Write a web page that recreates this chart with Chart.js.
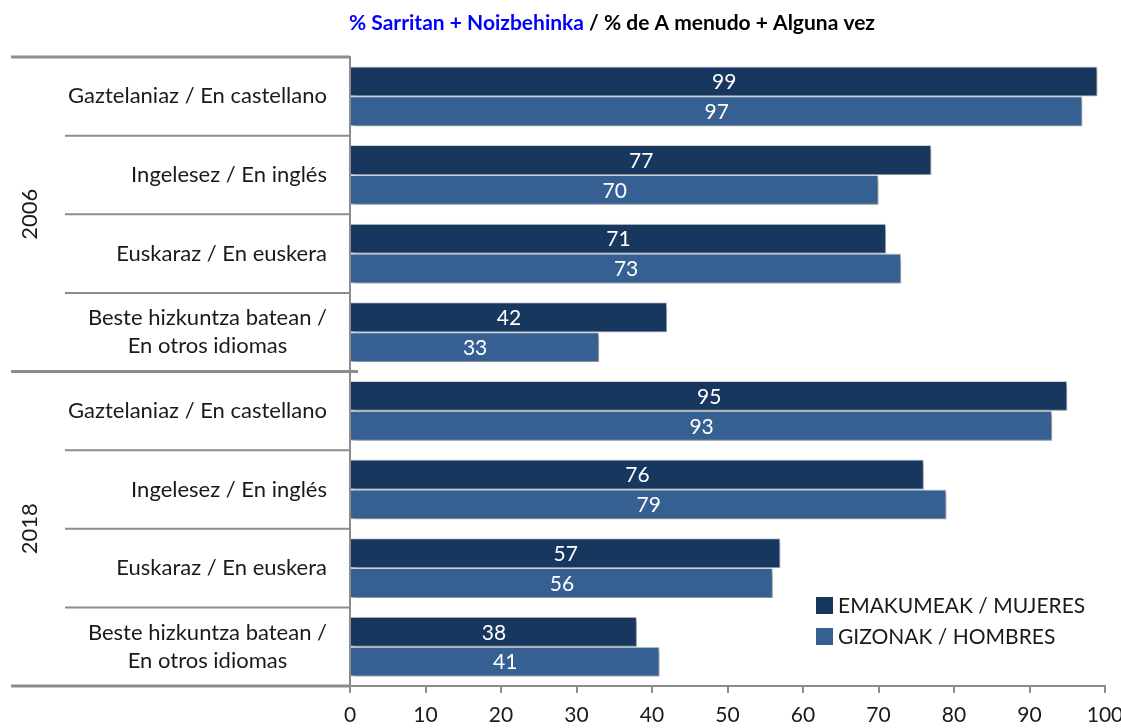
<!DOCTYPE html>
<html><head><meta charset="utf-8">
<script src="https://cdn.jsdelivr.net/npm/chart.js@4.4.0/dist/chart.umd.min.js"></script>
<style>html,body{margin:0;padding:0;background:#fff}</style>
</head><body>
<canvas id="c" width="1121" height="728"></canvas>
<script>
// ---- data ----
const titleBlue = '% Sarritan + Noizbehinka';
const titleBlack = ' / % de A menudo + Alguna vez';
const groups = ['2006', '2018'];
const categories = [
  ['Gaztelaniaz / En castellano'],
  ['Ingelesez / En inglés'],
  ['Euskaraz / En euskera'],
  ['Beste hizkuntza batean /', 'En otros idiomas'],
  ['Gaztelaniaz / En castellano'],
  ['Ingelesez / En inglés'],
  ['Euskaraz / En euskera'],
  ['Beste hizkuntza batean /', 'En otros idiomas']
];
const seriesNames = ['EMAKUMEAK / MUJERES', 'GIZONAK / HOMBRES'];
const women = [99, 77, 71, 42, 95, 76, 57, 38];
const men   = [97, 70, 73, 33, 93, 79, 56, 41];
const xMin = 0, xMax = 100, xStep = 10;

// ---- styles ----
const FONT = 'Lato, "Open Sans", sans-serif';
const darkBlue = '#17375E';
const midBlue = '#376092';
const gridGray = '#8c8c8c';

const overlay = {
  id: 'overlay',
  beforeDatasetsDraw(chart) {
    const ctx = chart.ctx;
    ctx.save();
    ctx.shadowColor = 'rgba(0,0,0,0.35)';
    ctx.shadowBlur = 4;
    ctx.shadowOffsetX = 2;
    ctx.shadowOffsetY = 3;
  },
  afterDatasetsDraw(chart) {
    const ctx = chart.ctx;
    ctx.restore();
    ctx.save();
    ctx.fillStyle = '#ffffff';
    ctx.font = '21px ' + FONT;
    ctx.textAlign = 'center';
    ctx.textBaseline = 'middle';
    chart.data.datasets.forEach((ds, di) => {
      const meta = chart.getDatasetMeta(di);
      meta.data.forEach((el, i) => {
        ctx.fillText(String(ds.data[i]), (el.x + el.base) / 2, el.y + 1);
      });
    });
    ctx.restore();
  },
  afterDraw(chart) {
    const ctx = chart.ctx;
    const ca = chart.chartArea;
    const ys = chart.scales.y;
    ctx.save();
    // title
    ctx.font = 'bold 21px ' + FONT;
    ctx.textBaseline = 'middle';
    ctx.textAlign = 'left';
    const w1 = ctx.measureText(titleBlue).width;
    const w2 = ctx.measureText(titleBlack).width;
    let tx = 612 - (w1 + w2) / 2;
    ctx.fillStyle = '#0000FF';
    ctx.fillText(titleBlue, tx, 23);
    ctx.fillStyle = '#000000';
    ctx.fillText(titleBlack, tx + w1, 23);

    // separators in label area
    const n = categories.length;
    ctx.strokeStyle = gridGray;
    for (let i = 0; i <= n; i++) {
      let y;
      if (i === 0) y = ca.top;
      else if (i === n) y = ca.bottom;
      else y = (ys.getPixelForValue(i - 1) + ys.getPixelForValue(i)) / 2;
      const isGroup = (i % 4 === 0);
      ctx.lineWidth = isGroup ? 3 : 2;
      ctx.beginPath();
      ctx.moveTo(isGroup ? 11 : 65, y);
      ctx.lineTo(ca.left + (i > 0 && i < n && isGroup ? 8 : 0), y);
      ctx.stroke();
    }

    // category labels
    ctx.fillStyle = '#1a1a1a';
    ctx.font = '22px ' + FONT;
    ctx.textAlign = 'center';
    ctx.textBaseline = 'middle';
    const rightEdge = 327;
    const lh = 28;
    categories.forEach((lines, i) => {
      const cy = ys.getPixelForValue(i);
      const bw = Math.max(...lines.map(l => ctx.measureText(l).width));
      const cx = rightEdge - bw / 2;
      lines.forEach((l, k) => {
        ctx.fillText(l, cx, cy + (k - (lines.length - 1) / 2) * lh);
      });
    });

    // group labels
    groups.forEach((g, gi) => {
      const a = ys.getPixelForValue(gi * 4);
      const b = ys.getPixelForValue(gi * 4 + 3);
      const cy = (a + b) / 2;
      ctx.save();
      ctx.translate(30, cy);
      ctx.rotate(-Math.PI / 2);
      ctx.fillText(g, 0, 0);
      ctx.restore();
    });

    // legend
    const colors = [darkBlue, midBlue];
    ctx.textAlign = 'left';
    ctx.font = '21px ' + FONT;
    seriesNames.forEach((s, k) => {
      const y0 = 597 + k * 31;
      ctx.fillStyle = colors[k];
      ctx.fillRect(816, y0, 17, 17);
      ctx.fillStyle = '#1a1a1a';
      ctx.fillText(s, 838, y0 + 9);
    });
    ctx.restore();
  }
};

new Chart(document.getElementById('c'), {
  type: 'bar',
  data: {
    labels: categories.map(c => c.join(' ')),
    datasets: [
      { label: seriesNames[0], data: women, backgroundColor: darkBlue, borderColor: 'rgba(200,208,220,0.9)', borderWidth: 1 },
      { label: seriesNames[1], data: men, backgroundColor: midBlue, borderColor: 'rgba(200,208,220,0.9)', borderWidth: 1 }
    ]
  },
  options: {
    indexAxis: 'y',
    responsive: false,
    animation: false,
    devicePixelRatio: 1,
    layout: { padding: { top: 57, right: 16, left: 0, bottom: 0 } },
    datasets: { bar: { categoryPercentage: 0.76, barPercentage: 1.0 } },
    plugins: { legend: { display: false }, title: { display: false }, tooltip: { enabled: false } },
    scales: {
      y: {
        type: 'category',
        offset: true,
        grid: { display: false },
        border: { display: true, color: gridGray, width: 2 },
        ticks: { display: false },
        afterFit(s) { s.width = 350; s.paddingTop = 0; s.paddingBottom = 0; }
      },
      x: {
        type: 'linear',
        min: xMin, max: xMax,
        grid: { drawOnChartArea: false, drawTicks: true, tickLength: 7, color: gridGray, lineWidth: 2 },
        border: { display: true, color: gridGray, width: 2 },
        ticks: { stepSize: xStep, color: '#1a1a1a', font: { family: FONT, size: 21 }, padding: 10, maxRotation: 0 },
        afterFit(s) { s.height = 42; s.paddingLeft = 0; s.paddingRight = 0; }
      }
    }
  },
  plugins: [overlay]
});
</script>
</body></html>
